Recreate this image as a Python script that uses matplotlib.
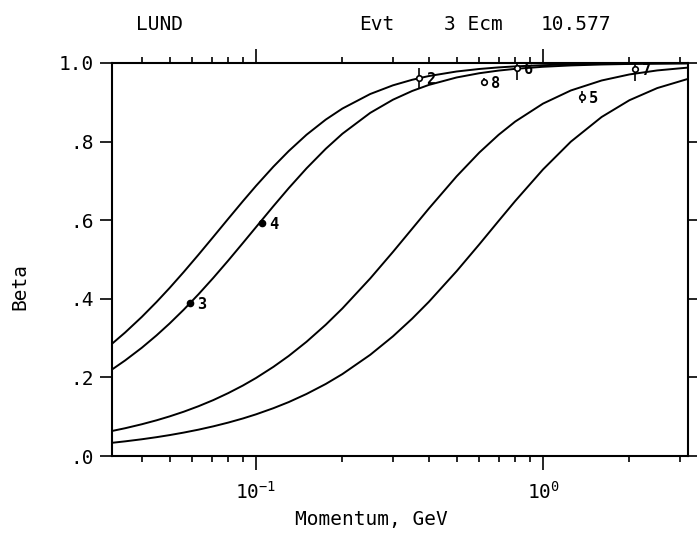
import matplotlib
matplotlib.use("Agg")
import matplotlib.pyplot as plt
from matplotlib.ticker import FixedLocator, NullFormatter

plt.rcParams['font.family'] = 'DejaVu Sans Mono'

# momentum grid (GeV) and beta
momentum = [0.0315, 0.035, 0.04, 0.045, 0.05, 0.056, 0.063, 0.071, 0.08, 0.09,
            0.1, 0.115, 0.13, 0.15, 0.175, 0.2, 0.25, 0.3, 0.35, 0.4,
            0.5, 0.6, 0.7, 0.8, 1.0, 1.25, 1.6, 2.0, 2.5, 3.2]
beta_mu = [0.2856, 0.3143, 0.3539, 0.3917, 0.4276, 0.4682, 0.5120, 0.5576, 0.6035, 0.6483,
           0.6873, 0.7363, 0.7759, 0.8175, 0.8560, 0.8841, 0.9211, 0.9432, 0.9573, 0.9668,
           0.9784, 0.9848, 0.9888, 0.9914, 0.9945, 0.9964, 0.9978, 0.9986, 0.9991, 0.9995]
beta_pi = [0.2201, 0.2432, 0.2754, 0.3068, 0.3372, 0.3723, 0.4113, 0.4533, 0.4972, 0.5419,
           0.5823, 0.6358, 0.6815, 0.7320, 0.7817, 0.8200, 0.8731, 0.9066, 0.9288, 0.9442,
           0.9632, 0.9740, 0.9807, 0.9851, 0.9904, 0.9938, 0.9962, 0.9976, 0.9984, 0.9991]
beta_k = [0.0637, 0.0707, 0.0808, 0.0908, 0.1008, 0.1127, 0.1266, 0.1423, 0.1600, 0.1793,
          0.1985, 0.2269, 0.2546, 0.2907, 0.3341, 0.3755, 0.4518, 0.5193, 0.5783, 0.6295,
          0.7116, 0.7722, 0.8172, 0.8510, 0.8967, 0.9301, 0.9555, 0.9709, 0.9811, 0.9883]
beta_p = [0.0336, 0.0373, 0.0426, 0.0479, 0.0532, 0.0596, 0.0670, 0.0755, 0.0850, 0.0955,
          0.1060, 0.1217, 0.1372, 0.1579, 0.1833, 0.2085, 0.2575, 0.3045, 0.3495, 0.3922,
          0.4703, 0.5387, 0.5980, 0.6488, 0.7292, 0.7998, 0.8626, 0.9053, 0.9362, 0.9596]

# measured tracks: low-momentum ones are plain dots, the rest carry error bars
dot_ids = ['3', '4']
dot_p = [0.0589, 0.105]
dot_beta = [0.389, 0.593]

track_ids = ['2', '8', '6', '5', '7']
track_p = [0.370, 0.623, 0.811, 1.37, 2.09]
track_beta = [0.962, 0.952, 0.987, 0.913, 0.985]
track_err = [0.025, 0.010, 0.030, 0.015, 0.030]

y_ticks = [0.0, 0.2, 0.4, 0.6, 0.8, 1.0]
y_labels = ['.0', '.2', '.4', '.6', '.8', '1.0']

fig = plt.figure(figsize=(6.97, 5.38), dpi=100)
ax = fig.add_axes([0.1607, 0.1524, 0.8264, 0.7305])

for b in [beta_mu, beta_pi, beta_k, beta_p]:
    ax.plot(momentum, b, color='black', lw=1.4)

ax.plot(dot_p, dot_beta, 'o', ms=4.5, color='black', zorder=4)
ax.errorbar(track_p, track_beta, yerr=track_err, fmt='o', ms=4, mfc='white',
            mec='black', mew=1.2, ecolor='black', elinewidth=1.2, capsize=0, zorder=4)

for tid, xv, yv in zip(dot_ids + track_ids, dot_p + track_p, dot_beta + track_beta):
    ax.annotate(tid, (xv, yv), xytext=(5, -1), textcoords='offset points',
                va='center', ha='left', fontsize=11, fontweight='bold')

ax.set_xscale('log')
ax.set_xlim(0.0315, 3.2)
ax.set_ylim(0, 1.0)
ax.yaxis.set_major_locator(FixedLocator(y_ticks))
ax.set_yticklabels(y_labels)
ax.xaxis.set_minor_formatter(NullFormatter())

ax.tick_params(which='both', direction='out', top=True, right=True, width=1.2,
               labelsize=14, color='black')
ax.tick_params(axis='x', which='major', length=10, pad=8)
ax.tick_params(axis='x', which='minor', length=4)
ax.tick_params(axis='y', which='major', length=9, pad=4)
for s in ax.spines.values():
    s.set_linewidth(1.5)

fig.text(0.5335, 0.035, 'Momentum, GeV', ha='center', va='center', fontsize=14)
fig.text(0.028, 0.468, 'Beta', rotation=90, ha='center', va='center', fontsize=14)

fig.text(136/697, 0.955, 'LUND', ha='left', va='center', fontsize=14)
fig.text(359/697, 0.955, 'Evt', ha='left', va='center', fontsize=14)
fig.text(444/697, 0.955, '3 Ecm', ha='left', va='center', fontsize=14)
fig.text(541/697, 0.955, '10.577', ha='left', va='center', fontsize=14)

fig.savefig('out.png', dpi=100)
